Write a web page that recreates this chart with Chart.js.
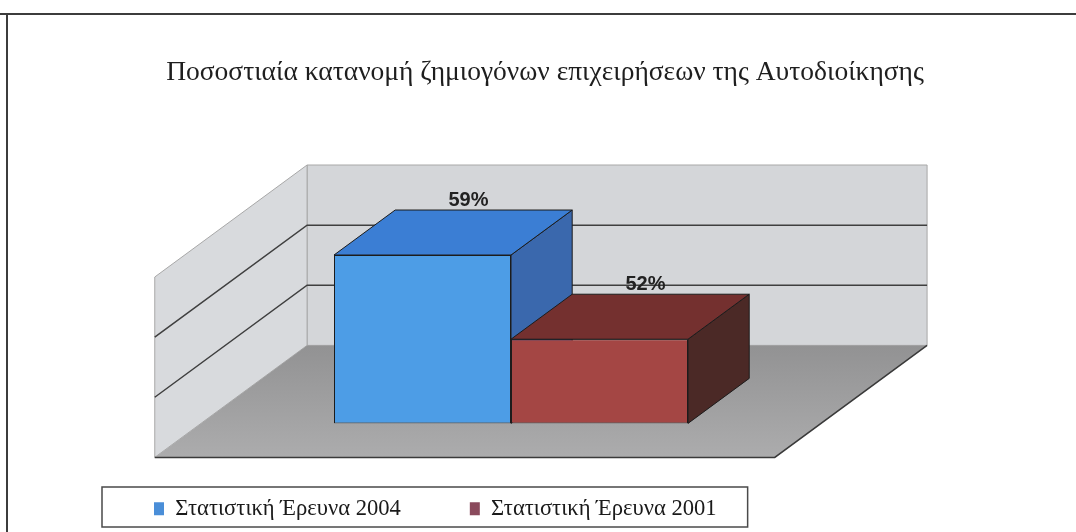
<!DOCTYPE html>
<html lang="el">
<head>
<meta charset="utf-8">
<title>Ζημιογόνες επιχειρήσεις</title>
<script src="https://cdn.jsdelivr.net/npm/chart.js@4.4.1/dist/chart.umd.min.js"></script>
<style>
  html, body { margin: 0; padding: 0; background: #fff; }
  canvas { display: block; }
</style>
</head>
<body>
<canvas id="chart" width="1076" height="532"></canvas>
<script>
// ---- data ----
const categories = ['Ζημιογόνες επιχειρήσεις'];
const seriesNames = ['Στατιστική Έρευνα 2004', 'Στατιστική Έρευνα 2001'];
const survey2004 = [59];
const survey2001 = [52];
const valueSuffix = '%';
const yMin = 45;
const yMax = 60;
const yStep = 5;

// ---- styles ----
const frontColors = ['#4d9de6', '#a44644'];
const topColors = ['#3b7ed4', '#74302f'];
const sideColors = ['#3a68ad', '#4b2926'];
const legendColors = ['#4a8ed8', '#8a4a5c'];
const serif = "'Liberation Serif', 'DejaVu Serif', serif";
const sans = "'Liberation Sans', Arial, sans-serif";

// 3D look: depth is measured in vertical px, k turns it into a horizontal shift
const depthK = 1.36;
const wallDepth = 78;   // front plane of bars -> back wall
const floorFront = 34;  // front plane of bars -> front edge of floor
const barDepth = 45;

function poly(ctx, pts, fill, stroke) {
  ctx.beginPath();
  ctx.moveTo(pts[0][0], pts[0][1]);
  for (let i = 1; i < pts.length; i++) ctx.lineTo(pts[i][0], pts[i][1]);
  ctx.closePath();
  if (fill) { ctx.fillStyle = fill; ctx.fill(); }
  if (stroke) { ctx.strokeStyle = stroke; ctx.stroke(); }
}

const box3d = {
  id: 'box3d',
  beforeDraw(chart) {
    const ctx = chart.ctx;
    ctx.save();
    ctx.fillStyle = '#fff';
    ctx.fillRect(0, 0, chart.width, chart.height);
    // scanned page frame
    ctx.strokeStyle = '#3c3c3c';
    ctx.lineWidth = 2;
    ctx.beginPath();
    ctx.moveTo(0, 14); ctx.lineTo(chart.width, 14);
    ctx.moveTo(7, 14); ctx.lineTo(7, chart.height);
    ctx.stroke();
    ctx.restore();
  },
  beforeDatasetsDraw(chart) {
    const { ctx, chartArea: a, scales: { y } } = chart;
    const bx = wallDepth * depthK, by = -wallDepth;
    const fx = -floorFront * depthK, fy = floorFront;
    const L = a.left, R = a.right, T = a.top, B = a.bottom;
    ctx.save();
    ctx.lineWidth = 1;
    // walls
    poly(ctx, [[L + bx, T + by], [R + bx, T + by], [R + bx, B + by], [L + bx, B + by]], '#d4d6d9', '#a8a8a8');
    poly(ctx, [[L + fx, T + fy], [L + bx, T + by], [L + bx, B + by], [L + fx, B + fy]], '#d8dadd', '#a8a8a8');
    // floor
    const g = ctx.createLinearGradient(0, B + by, 0, B + fy);
    g.addColorStop(0, '#929293');
    g.addColorStop(1, '#acacad');
    poly(ctx, [[L + fx, B + fy], [R + fx, B + fy], [R + bx, B + by], [L + bx, B + by]], g, null);
    ctx.strokeStyle = '#3a3a3a';
    ctx.lineWidth = 1.5;
    ctx.beginPath();
    ctx.moveTo(L + fx, B + fy); ctx.lineTo(R + fx, B + fy); ctx.lineTo(R + bx, B + by);
    ctx.stroke();
    // grid lines on left and back wall
    ctx.strokeStyle = '#3f3f3f';
    ctx.lineWidth = 1.5;
    y.ticks.forEach(t => {
      if (t.value <= y.min || t.value >= y.max) return;
      const py = y.getPixelForValue(t.value);
      ctx.beginPath();
      ctx.moveTo(L + fx, py + fy);
      ctx.lineTo(L + bx, py + by);
      ctx.lineTo(R + bx, py + by);
      ctx.stroke();
    });
    // bar tops and sides (fronts are drawn by Chart.js on top of these)
    ctx.lineWidth = 1;
    const dx = barDepth * depthK, dy = -barDepth;
    const floorY = y.getPixelForValue(y.min);
    chart.data.datasets.forEach((ds, i) => {
      chart.getDatasetMeta(i).data.forEach(bar => {
        const p = bar.getProps(['x', 'y', 'base', 'width'], true);
        const top = p.y, base = Math.min(p.base, floorY);
        const l = p.x - p.width / 2, r = p.x + p.width / 2;
        poly(ctx, [[r, top], [r + dx, top + dy], [r + dx, base + dy], [r, base]], sideColors[i], '#1c1c1c');
        poly(ctx, [[l, top], [r, top], [r + dx, top + dy], [l + dx, top + dy]], topColors[i], '#1c1c1c');
      });
    });
    ctx.restore();
  },
  afterDatasetsDraw(chart) {
    const ctx = chart.ctx;
    const dx = barDepth * depthK, dy = -barDepth;
    ctx.save();
    ctx.font = 'bold 20px ' + sans;
    ctx.fillStyle = '#222';
    ctx.textAlign = 'center';
    ctx.textBaseline = 'alphabetic';
    chart.data.datasets.forEach((ds, i) => {
      chart.getDatasetMeta(i).data.forEach((bar, j) => {
        const { x, y: top } = bar.getProps(['x', 'y'], true);
        ctx.fillText(ds.data[j] + valueSuffix, x + dx * 0.75, top + dy - 4);
      });
    });
    ctx.restore();
  },
  afterDraw(chart) {
    const lg = chart.legend;
    if (!lg || !lg.legendHitBoxes.length) return;
    const hb = lg.legendHitBoxes;
    const first = hb[0], last = hb[hb.length - 1];
    const ctx = chart.ctx;
    ctx.save();
    ctx.strokeStyle = '#4a4a4a';
    ctx.lineWidth = 1.5;
    const x0 = first.left - 52, x1 = last.left + last.width + 31;
    ctx.strokeRect(x0, lg.bottom - 43, x1 - x0, 40);
    ctx.restore();
  }
};

new Chart(document.getElementById('chart'), {
  type: 'bar',
  data: {
    labels: categories,
    datasets: [
      { label: seriesNames[0], data: survey2004, backgroundColor: frontColors[0] },
      { label: seriesNames[1], data: survey2001, backgroundColor: frontColors[1] }
    ]
  },
  options: {
    responsive: false,
    animation: false,
    devicePixelRatio: 1,
    layout: { padding: { left: 85, right: 71, top: 0, bottom: 2 } },
    datasets: {
      bar: {
        base: yMin,
        categoryPercentage: 0.571,
        barPercentage: 1,
        borderColor: '#1c1c1c',
        borderWidth: 1,
        borderSkipped: false
      }
    },
    scales: {
      x: {
        ticks: { display: false },
        grid: { display: false },
        border: { display: false },
        afterFit: s => { s.height = 5; }
      },
      y: {
        min: yMin,
        max: yMax,
        ticks: { display: false, stepSize: yStep },
        grid: { display: false },
        border: { display: false },
        afterFit: s => { s.width = 116; }
      },
      y2: {
        position: 'right',
        ticks: { display: false },
        grid: { display: false },
        border: { display: false },
        afterFit: s => { s.width = 184; }
      }
    },
    plugins: {
      title: {
        display: true,
        text: 'Ποσοστιαία κατανομή ζημιογόνων επιχειρήσεων της Αυτοδιοίκησης',
        color: '#1e1e1e',
        font: { family: serif, size: 27.5, weight: 'normal', lineHeight: 1.2 },
        padding: { top: 56, bottom: 154 }
      },
      legend: {
        position: 'bottom',
        align: 'start',
        labels: {
          color: '#1a1a1a',
          font: { family: serif, size: 22.6 },
          boxWidth: 10,
          boxHeight: 13,
          padding: 69,
          generateLabels(chart) {
            return chart.data.datasets.map((ds, i) => ({
              text: ds.label,
              fillStyle: legendColors[i],
              strokeStyle: legendColors[i],
              lineWidth: 0,
              fontColor: '#1a1a1a',
              datasetIndex: i,
              hidden: false
            }));
          }
        }
      },
      tooltip: { enabled: false }
    }
  },
  plugins: [box3d]
});
</script>
</body>
</html>
